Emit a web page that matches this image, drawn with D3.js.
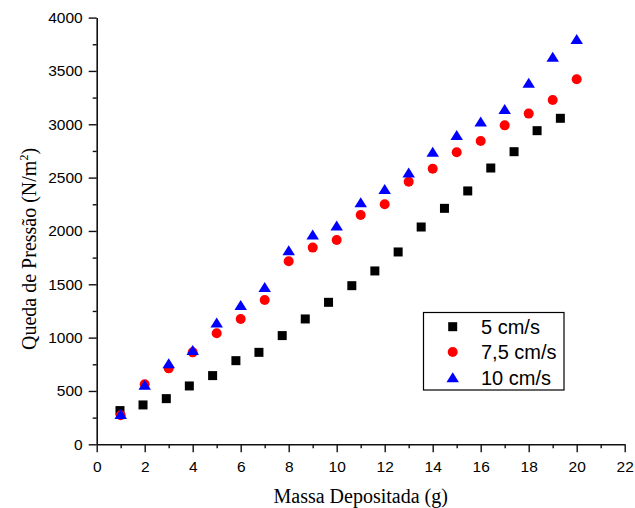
<!DOCTYPE html>
<html>
<head>
<meta charset="utf-8">
<script src="https://cdn.jsdelivr.net/npm/d3@7"></script>
<style>
  html, body { margin: 0; padding: 0; background: #fff; }
  svg { display: block; }
</style>
</head>
<body>
<svg id="chart" width="635" height="508"></svg>
<script>
// ---- data ----
const seriesNames = ["5 cm/s", "7,5 cm/s", "10 cm/s"];
const xBlack = [0.97,1.93,2.90,3.86,4.83,5.80,6.76,7.73,8.69,9.66,10.63,11.59,12.56,13.52,14.49,15.46,16.42,17.39,18.35,19.32];
const yBlack = [316,369,428,547,644,784,862,1019,1175,1331,1487,1625,1803,2037,2212,2375,2590,2743,2940,3056];
const xRed = [1,2,3,4,5,6,7,8,9,10,11,12,13,14,15,16,17,18,19,20];
const yRed = [272,562,712,862,1041,1175,1353,1716,1844,1916,2150,2250,2462,2583,2737,2843,2990,3100,3228,3422];
const xBlue = [1,2,3,4,5,6,7,8,9,10,11,12,13,14,15,16,17,18,19,20];
const yBlue = [285,558,759,884,1141,1306,1475,1819,1966,2050,2269,2394,2547,2743,2900,3025,3143,3390,3634,3800];
const xMajorTicks = [0,2,4,6,8,10,12,14,16,18,20,22];
const xMinorTicks = [1,3,5,7,9,11,13,15,17,19,21];
const yMajorTicks = [0,500,1000,1500,2000,2500,3000,3500,4000];
const yMinorTicks = [250,750,1250,1750,2250,2750,3250,3750];
const xTitle = "Massa Depositada (g)";
const yTitle = "Queda de Pressão (N/m";

// ---- layout ----
const svg = d3.select("#chart");
const pLeft = 96.7, pRight = 624.7, pTop = 17.6, pBottom = 444.3;
const x = d3.scaleLinear().domain([0, 22]).range([pLeft, pRight]);
const y = d3.scaleLinear().domain([0, 4000]).range([pBottom, pTop]);
const tickFont = "'Liberation Sans', Arial, sans-serif";
const serif = "'Liberation Serif', 'Times New Roman', serif";
const axisColor = "#111";

function styleAxis(g) {
  g.select(".domain").attr("stroke", axisColor).attr("stroke-width", 1.6);
  g.selectAll(".tick line").attr("stroke", axisColor).attr("stroke-width", 1.4);
  g.selectAll(".tick text").attr("fill", "#000").style("font-family", tickFont).style("font-size", "15.5px");
}

// minor ticks
svg.append("g").attr("transform", `translate(0,${pBottom})`)
  .call(d3.axisBottom(x).tickValues(xMinorTicks).tickSize(4).tickFormat(""))
  .call(g => { styleAxis(g); g.select(".domain").remove(); });
svg.append("g").attr("transform", `translate(${pLeft},0)`)
  .call(d3.axisLeft(y).tickValues(yMinorTicks).tickSize(4).tickFormat(""))
  .call(g => { styleAxis(g); g.select(".domain").remove(); });

// major axes
svg.append("g").attr("transform", `translate(0,${pBottom})`)
  .call(d3.axisBottom(x).tickValues(xMajorTicks).tickSize(8).tickPadding(9).tickSizeOuter(0).tickFormat(d3.format("d")))
  .call(styleAxis);
svg.append("g").attr("transform", `translate(${pLeft},0)`)
  .call(d3.axisLeft(y).tickValues(yMajorTicks).tickSize(8).tickPadding(6).tickSizeOuter(0).tickFormat(d3.format("d")))
  .call(styleAxis);

// axis titles
svg.append("text")
  .attr("x", (pLeft + pRight) / 2).attr("y", 503)
  .attr("text-anchor", "middle")
  .style("font-family", serif).style("font-size", "20px")
  .text(xTitle);

const yt = svg.append("text")
  .attr("transform", `translate(36,${(pTop + pBottom) / 2 + 18}) rotate(-90)`)
  .attr("text-anchor", "middle")
  .style("font-family", serif).style("font-size", "20px");
yt.append("tspan").text(yTitle);
yt.append("tspan").attr("dy", -8).style("font-size", "12px").text("2");
yt.append("tspan").attr("dy", 8).text(")");

// markers
const sq = 9, circR = 5, triW = 12.5, triH = 10;
function drawMarker(g, type, color) {
  if (type === 0) {
    g.append("rect").attr("x", -sq / 2).attr("y", -sq / 2).attr("width", sq).attr("height", sq).attr("fill", color);
  } else if (type === 1) {
    g.append("circle").attr("r", circR).attr("fill", color);
  } else {
    g.append("path").attr("d", `M0,${-triH / 2}L${triW / 2},${triH / 2}L${-triW / 2},${triH / 2}Z`).attr("fill", color);
  }
}

const series = [
  { xs: xBlack, ys: yBlack, color: "#000000", type: 0 },
  { xs: xRed, ys: yRed, color: "#ff0000", type: 1 },
  { xs: xBlue, ys: yBlue, color: "#0000ff", type: 2 }
];

series.forEach(s => {
  const g = svg.append("g");
  s.xs.forEach((xv, i) => {
    const m = g.append("g").attr("transform", `translate(${x(xv)},${y(s.ys[i])})`);
    drawMarker(m, s.type, s.color);
  });
});

// legend
const lg = svg.append("g");
lg.append("rect").attr("x", 423.5).attr("y", 312.5).attr("width", 140.5).attr("height", 77.5)
  .attr("fill", "#fff").attr("stroke", "#000").attr("stroke-width", 1.2);
series.forEach((s, i) => {
  const cy = 326.7 + i * 25.3;
  const m = lg.append("g").attr("transform", `translate(452.7,${cy})`);
  drawMarker(m, s.type, s.color);
  lg.append("text").attr("x", 481).attr("y", cy + 7.3)
    .style("font-family", tickFont).style("font-size", "20px")
    .text(seriesNames[i]);
});
</script>
</body>
</html>
